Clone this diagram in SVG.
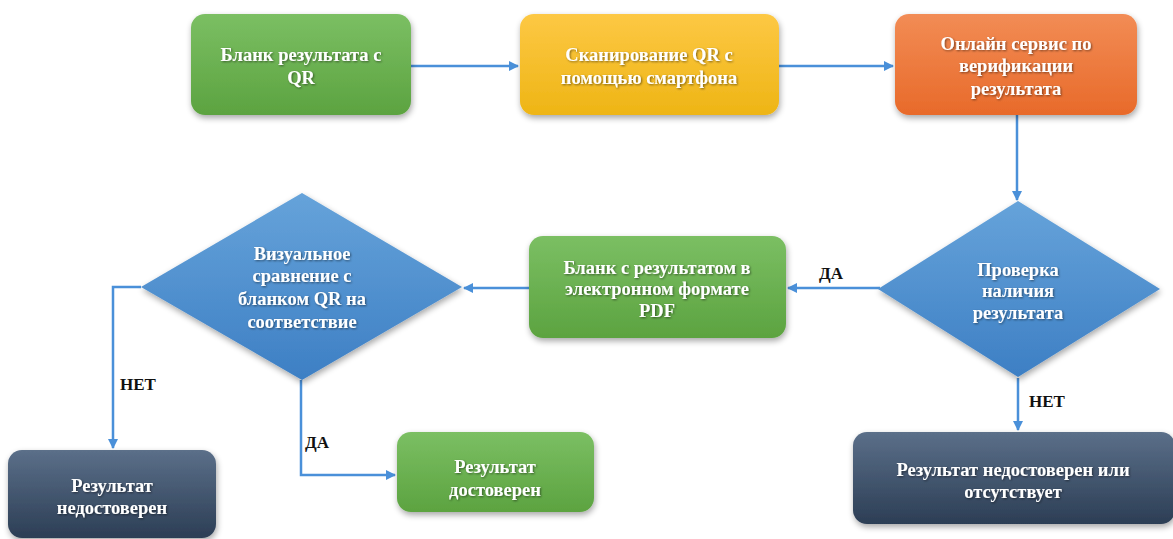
<svg xmlns="http://www.w3.org/2000/svg" width="1173" height="539" viewBox="0 0 1173 539">
  <defs>
    <linearGradient id="gGreen" x1="0" y1="0" x2="0" y2="1">
      <stop offset="0" stop-color="#7bbf63"/>
      <stop offset="1" stop-color="#5ca340"/>
    </linearGradient>
    <linearGradient id="gYellow" x1="0" y1="0" x2="0" y2="1">
      <stop offset="0" stop-color="#fdc844"/>
      <stop offset="1" stop-color="#eeb515"/>
    </linearGradient>
    <linearGradient id="gOrange" x1="0" y1="0" x2="0" y2="1">
      <stop offset="0" stop-color="#f28c55"/>
      <stop offset="1" stop-color="#e86a2a"/>
    </linearGradient>
    <linearGradient id="gBlue" x1="0" y1="0" x2="0" y2="1">
      <stop offset="0" stop-color="#66a3da"/>
      <stop offset="1" stop-color="#3d7fc4"/>
    </linearGradient>
    <linearGradient id="gSlate" x1="0" y1="0" x2="0" y2="1">
      <stop offset="0" stop-color="#5b6f89"/>
      <stop offset="1" stop-color="#2c3e55"/>
    </linearGradient>
    <filter id="shadow" x="-10%" y="-10%" width="125%" height="130%">
      <feGaussianBlur in="SourceAlpha" stdDeviation="3"/>
      <feOffset dx="1" dy="3" result="b"/>
      <feComponentTransfer><feFuncA type="linear" slope="0.35"/></feComponentTransfer>
      <feMerge><feMergeNode/><feMergeNode in="SourceGraphic"/></feMerge>
    </filter>
    <filter id="textShadow" x="-5%" y="-20%" width="110%" height="150%">
      <feGaussianBlur in="SourceAlpha" stdDeviation="0.8"/>
      <feOffset dx="1" dy="1"/>
      <feComponentTransfer><feFuncA type="linear" slope="0.5"/></feComponentTransfer>
      <feMerge><feMergeNode/><feMergeNode in="SourceGraphic"/></feMerge>
    </filter>
    <marker id="arrow" viewBox="0 0 10 10" refX="9" refY="5" markerWidth="4" markerHeight="4" orient="auto">
      <path d="M0,0 L10,5 L0,10 z" fill="#4a90d9"/>
    </marker>
  </defs>
  <style>
    .node text { font-family: "Liberation Serif", "Times New Roman", serif; font-weight: bold; font-size: 18.5px; fill: #ffffff; text-anchor: middle; }
    .node .t { filter: url(#textShadow); }
    .shape { filter: url(#shadow); }
    .edge { fill: none; stroke: #4a90d9; stroke-width: 2.5; marker-end: url(#arrow); }
    .lbl { font-family: "Liberation Serif", "Times New Roman", serif; font-weight: bold; font-size: 17px; fill: #111111; }
  </style>

  <!-- connectors -->
  <g id="connectors">
    <path class="edge" d="M411,66 L518,66"/>
    <path class="edge" d="M779,66 L893,66"/>
    <path class="edge" d="M1017,115 L1017,200"/>
    <path class="edge" d="M880,288 L788,288"/>
    <path class="edge" d="M529,288 L464,288"/>
    <path class="edge" d="M141,287 L113,287 L113,448"/>
    <path class="edge" d="M301,380 L301,475 L395,475"/>
    <path class="edge" d="M1018,378 L1018,430"/>
    <text class="lbl" x="819" y="279">ДА</text>
    <text class="lbl" x="1029" y="407">НЕТ</text>
    <text class="lbl" x="120" y="390">НЕТ</text>
    <text class="lbl" x="305" y="448">ДА</text>
  </g>

  <g id="blank-qr" class="node">
    <rect class="shape" x="191" y="14" width="220" height="101" rx="14" fill="url(#gGreen)"/>
    <g class="t">
      <text x="301" y="61">Бланк результата с</text>
      <text x="301" y="84">QR</text>
    </g>
  </g>

  <g id="scan-qr" class="node">
    <rect class="shape" x="520" y="14" width="259" height="101" rx="14" fill="url(#gYellow)"/>
    <g class="t">
      <text x="649" y="61">Сканирование QR с</text>
      <text x="649" y="84">помощью смартфона</text>
    </g>
  </g>

  <g id="online-service" class="node">
    <rect class="shape" x="895" y="14" width="242" height="101" rx="14" fill="url(#gOrange)"/>
    <g class="t">
      <text x="1016" y="50">Онлайн сервис по</text>
      <text x="1016" y="72">верификации</text>
      <text x="1016" y="95">результата</text>
    </g>
  </g>

  <g id="check-result" class="node">
    <polygon class="shape" points="1018,201 1160,289 1018,377 878,289" fill="url(#gBlue)"/>
    <g class="t">
      <text x="1018" y="276">Проверка</text>
      <text x="1018" y="297">наличия</text>
      <text x="1018" y="319">результата</text>
    </g>
  </g>

  <g id="pdf-blank" class="node">
    <rect class="shape" x="529" y="236" width="257" height="102" rx="14" fill="url(#gGreen)"/>
    <g class="t">
      <text x="657" y="274">Бланк с результатом в</text>
      <text x="657" y="295">электронном формате</text>
      <text x="657" y="317">PDF</text>
    </g>
  </g>

  <g id="visual-compare" class="node">
    <polygon class="shape" points="302,193 462,287 302,380 141,287" fill="url(#gBlue)"/>
    <g class="t">
      <text x="302" y="260">Визуальное</text>
      <text x="302" y="282">сравнение с</text>
      <text x="302" y="305">бланком QR на</text>
      <text x="302" y="328">соответствие</text>
    </g>
  </g>

  <g id="not-valid" class="node">
    <rect class="shape" x="8" y="450" width="208" height="88" rx="14" fill="url(#gSlate)"/>
    <g class="t">
      <text x="112" y="492">Результат</text>
      <text x="112" y="514">недостоверен</text>
    </g>
  </g>

  <g id="valid" class="node">
    <rect class="shape" x="397" y="432" width="197" height="80" rx="14" fill="url(#gGreen)"/>
    <g class="t">
      <text x="495" y="473">Результат</text>
      <text x="495" y="496">достоверен</text>
    </g>
  </g>

  <g id="not-valid-or-missing" class="node">
    <rect class="shape" x="853" y="432" width="322" height="92" rx="14" fill="url(#gSlate)"/>
    <g class="t">
      <text x="1013" y="476">Результат недостоверен или</text>
      <text x="1013" y="498">отсутствует</text>
    </g>
  </g>
</svg>
